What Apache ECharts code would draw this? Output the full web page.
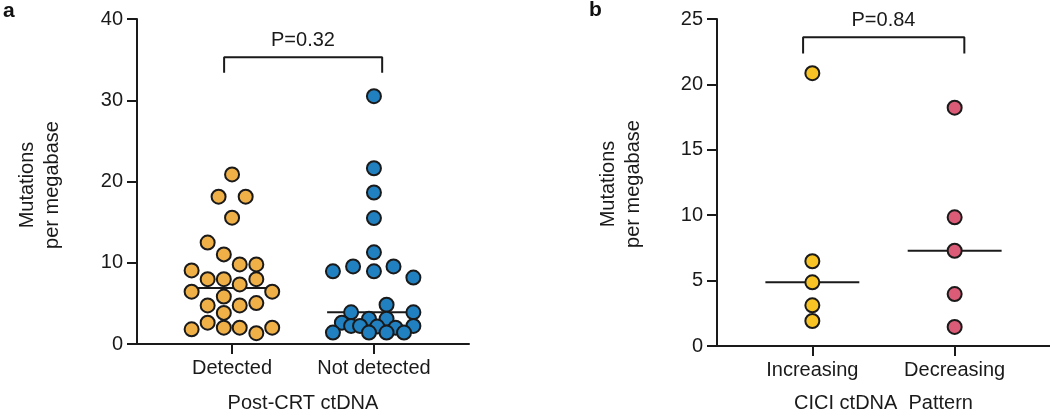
<!DOCTYPE html>
<html>
<head>
<meta charset="utf-8">
<script src="https://cdn.jsdelivr.net/npm/echarts@6/dist/echarts.min.js"></script>
<style>
html,body{margin:0;padding:0;background:#fff;}
#chart{width:1050px;height:418px;}
</style>
</head>
<body>
<div id="chart"></div>
<script>
// ---- Data ----
const categoriesA = ['Detected', 'Not detected'];
const categoriesB = ['Increasing', 'Decreasing'];
const yTicksA = [0, 10, 20, 30, 40];
const yTicksB = [0, 5, 10, 15, 20, 25];

const detectedValues = [20.87, 18.13, 18.13, 15.55, 12.48, 11.03, 9.79, 9.79, 9.06, 7.98, 7.98, 7.98, 7.33, 6.44, 6.44, 5.84, 4.75, 4.75, 5.04, 3.83, 2.62, 1.81, 2.01, 2.01, 1.33, 2.01];
const detectedJitter = [0.00, -0.095, 0.096, 0.00, -0.172, -0.058, 0.054, 0.171, -0.285, -0.172, -0.058, 0.171, 0.054, -0.285, 0.283, -0.058, -0.172, 0.054, 0.171, -0.058, -0.172, -0.285, -0.058, 0.054, 0.171, 0.283];

const notDetectedValues = [30.5, 21.63, 18.65, 15.5, 11.28, 8.94, 9.55, 8.94, 9.55, 8.18, 4.83, 3.9, 3.9, 3.1, 3.1, 2.62, 2.22, 2.22, 2.14, 2.22, 2.01, 1.41, 1.41, 1.41, 1.41];
const notDetectedJitter = [0, 0, 0, 0, 0, -0.289, -0.147, 0, 0.138, 0.278, 0.089, -0.161, 0.278, -0.035, 0.089, -0.226, -0.161, -0.098, 0.023, 0.278, 0.152, -0.289, -0.035, 0.089, 0.212];

const increasingValues = [20.86, 6.48, 4.87, 3.11, 1.91];
const decreasingValues = [18.22, 9.84, 7.28, 3.97, 1.46];

const pValueA = 'P=0.32';
const pValueB = 'P=0.84';

// ---- Helpers ----
function median(arr) {
  const s = arr.slice().sort((a, b) => a - b);
  const n = s.length;
  return n % 2 ? s[(n - 1) / 2] : (s[n / 2 - 1] + s[n / 2]) / 2;
}
function pts(values, pos, jitter) {
  return values.map((v, i) => [pos + (jitter ? jitter[i] : 0), v]);
}
const FONT = "'Liberation Sans', Arial, Helvetica, sans-serif";
const INK = '#1a1a1a';
const TXT = '#1a1a1a';
const HALF = 0.33;

function medianLine(values, pos, xi, yi) {
  const m = median(values);
  return {
    type: 'line', xAxisIndex: xi, yAxisIndex: yi, silent: true, symbol: 'none',
    lineStyle: { color: INK, width: 2 }, z: 1,
    data: [[pos - HALF, m], [pos + HALF, m]]
  };
}
function bracket(xi, yi, left, right, top, bottom) {
  return {
    type: 'line', xAxisIndex: xi, yAxisIndex: yi, silent: true, symbol: 'none',
    lineStyle: { color: INK, width: 2 },
    data: [[left, bottom], [left, top], [right, top], [right, bottom]]
  };
}
function dots(values, pos, jitter, color, xi, yi) {
  return {
    type: 'scatter', xAxisIndex: xi, yAxisIndex: yi, symbol: 'circle', symbolSize: 14, z: 3,
    itemStyle: { color: color, borderColor: INK, borderWidth: 2, opacity: 1 },
    data: pts(values, pos, jitter)
  };
}
function xAxisDef(gi, cats, name, nameGap) {
  return {
    type: 'value', gridIndex: gi, min: 0.33, max: 2.67,
    name: name, nameLocation: 'middle', nameGap: nameGap,
    nameTextStyle: { fontSize: 20, fontFamily: FONT, color: TXT },
    axisLine: { show: true, lineStyle: { color: INK, width: 2 } },
    axisTick: { show: true, customValues: [1, 2], length: 10, lineStyle: { color: INK, width: 2 } },
    axisLabel: { show: true, customValues: [1, 2], margin: 14, fontSize: 20, fontFamily: FONT, color: TXT,
      formatter: v => cats[Math.round(v) - 1] },
    splitLine: { show: false }
  };
}
function yAxisDef(gi, ticks) {
  const step = ticks[1] - ticks[0];
  return {
    type: 'value', gridIndex: gi, min: ticks[0], max: ticks[ticks.length - 1], interval: step,
    axisLine: { show: true, lineStyle: { color: INK, width: 2 } },
    axisTick: { show: true, length: 10, lineStyle: { color: INK, width: 2 } },
    axisLabel: { margin: 14, fontSize: 20, fontFamily: FONT, color: TXT },
    splitLine: { show: false }
  };
}

const chart = echarts.init(document.getElementById('chart'), null, { renderer: 'canvas' });
const baseGraphics = [
  { id: 'la', type: 'text', left: 3, top: 1, style: { text: 'a', font: 'bold 21px ' + FONT, fill: '#111' } },
  { id: 'lb', type: 'text', left: 589, top: 0, style: { text: 'b', font: 'bold 21px ' + FONT, fill: '#111' } },
  { id: 'ya', type: 'text', x: 40, y: 185, rotation: Math.PI / 2,
    style: { text: 'Mutations\nper megabase', font: '20px ' + FONT, fill: TXT, align: 'center', verticalAlign: 'middle', lineHeight: 25 } },
  { id: 'yb', type: 'text', x: 621, y: 184, rotation: Math.PI / 2,
    style: { text: 'Mutations\nper megabase', font: '20px ' + FONT, fill: TXT, align: 'center', verticalAlign: 'middle', lineHeight: 25 } }
];
chart.setOption({
  animation: false,
  backgroundColor: '#fff',
  grid: [
    { left: 137, top: 19, width: 332, height: 331 },
    { left: 717, top: 19, width: 333, height: 332 }
  ],
  xAxis: [
    xAxisDef(0, categoriesA, 'Post-CRT ctDNA', 49),
    xAxisDef(1, categoriesB, 'CICI ctDNA  Pattern', 47)
  ],
  yAxis: [yAxisDef(0, yTicksA), yAxisDef(1, yTicksB)],
  graphic: baseGraphics,
  series: [
    medianLine(detectedValues, 1, 0, 0),
    medianLine(notDetectedValues, 2, 0, 0),
    dots(detectedValues, 1, detectedJitter, '#F0B048', 0, 0),
    dots(notDetectedValues, 2, notDetectedJitter, '#2180C0', 0, 0),
    bracket(0, 0, 0.944, 2.058, 35.3, 33.4),
    medianLine(increasingValues, 1, 1, 1),
    medianLine(decreasingValues, 2, 1, 1),
    dots(increasingValues, 1, null, '#F8C324', 1, 1),
    dots(decreasingValues, 2, null, '#DC5C78', 1, 1),
    bracket(1, 1, 0.935, 2.068, 23.6, 22.36)
  ]
});

// P-value labels placed through the axes' own scales
const pa = chart.convertToPixel({ xAxisIndex: 0, yAxisIndex: 0 }, [1.5, 37.4]);
const pb = chart.convertToPixel({ xAxisIndex: 1, yAxisIndex: 1 }, [1.5, 24.87]);
chart.setOption({
  graphic: baseGraphics.concat([
    { id: 'pa', type: 'text', x: pa[0], y: pa[1],
      style: { text: pValueA, font: '20px ' + FONT, fill: TXT, align: 'center', verticalAlign: 'middle' } },
    { id: 'pb', type: 'text', x: pb[0], y: pb[1],
      style: { text: pValueB, font: '20px ' + FONT, fill: TXT, align: 'center', verticalAlign: 'middle' } }
  ])
});
</script>
</body>
</html>
